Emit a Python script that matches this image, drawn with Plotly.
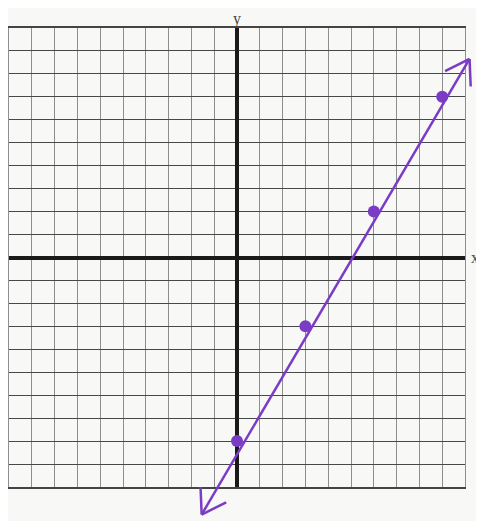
import math
import plotly.graph_objects as go

# plotted points (hand drawn on a -10..10 grid)
point_x = [0, 3, 6, 9]
point_y = [-8, -3, 2, 7]

# ends of the drawn line (arrow tips)
line_x = [-1.55, 10.2]
line_y = [-11.2, 8.65]

purple = "#7a3cc4"
paper = "#f8f8f6"

# figure size and where the grid box sits inside it (pixels)
W, H = 476, 513
gx0, gx1 = 1, 457
gy0, gy1 = 20, 479
ux = (gx1 - gx0) / 20
uy = (gy1 - gy0) / 20

fig = go.Figure()

# empty trace so the grid subplot is drawn
fig.add_trace(go.Scatter(x=[0], y=[0], mode="markers", marker=dict(opacity=0), hoverinfo="skip"))

# line, arrowheads and points go on a full-size overlay axis pair so the
# arrow tips can run past the edge of the grid
fig.add_trace(
    go.Scatter(
        x=line_x,
        y=line_y,
        mode="lines",
        line=dict(color=purple, width=2.5),
        hoverinfo="skip",
        xaxis="x2",
        yaxis="y2",
    )
)


# open "V" arrowheads at both ends, built from the line direction
def arrow_wings(tip_x, tip_y, from_x, from_y, length=1.2, spread=33):
    ang = math.atan2(from_y - tip_y, from_x - tip_x)
    xs, ys = [], []
    for s in (-spread, spread):
        a = ang + math.radians(s)
        xs += [tip_x + length * math.cos(a), tip_x, None]
        ys += [tip_y + length * math.sin(a), tip_y, None]
    return xs, ys


for i, j in ((0, 1), (1, 0)):
    wx, wy = arrow_wings(line_x[i], line_y[i], line_x[j], line_y[j])
    fig.add_trace(
        go.Scatter(
            x=wx,
            y=wy,
            mode="lines",
            line=dict(color=purple, width=2.5),
            hoverinfo="skip",
            xaxis="x2",
            yaxis="y2",
        )
    )

fig.add_trace(
    go.Scatter(
        x=point_x,
        y=point_y,
        mode="markers",
        marker=dict(color=purple, size=12),
        xaxis="x2",
        yaxis="y2",
    )
)

grid_common = dict(
    range=[-10, 10],
    dtick=1,
    showticklabels=False,
    ticks="",
    zeroline=True,
    zerolinecolor="#1a1a1a",
    zerolinewidth=3.5,
    showline=True,
    mirror=True,
    fixedrange=True,
)

fig.update_layout(
    width=W,
    height=H,
    margin=dict(l=0, r=0, t=0, b=0),
    paper_bgcolor=paper,
    plot_bgcolor="rgba(0,0,0,0)",
    showlegend=False,
    xaxis=dict(
        **grid_common,
        domain=[gx0 / W, gx1 / W],
        gridcolor="#8e8e8e",
        gridwidth=1,
        linecolor="#444444",
        linewidth=1.5,
    ),
    yaxis=dict(
        **grid_common,
        domain=[(H - gy1) / H, (H - gy0) / H],
        gridcolor="#484848",
        gridwidth=1.2,
        linecolor="#8e8e8e",
        linewidth=1,
    ),
    xaxis2=dict(
        domain=[0, 1],
        range=[-10 - gx0 / ux, 10 + (W - gx1) / ux],
        visible=False,
        fixedrange=True,
        anchor="y2",
    ),
    yaxis2=dict(
        domain=[0, 1],
        range=[-10 - (H - gy1) / uy, 10 + gy0 / uy],
        visible=False,
        fixedrange=True,
        anchor="x2",
    ),
    annotations=[
        dict(text="y", x=(gx0 + gx1) / 2 / W, y=1, xref="paper", yref="paper",
             xanchor="center", yanchor="top", yshift=0, showarrow=False,
             font=dict(family="Liberation Serif", size=16, color="#444")),
        dict(text="x", x=(gx1 + 4) / W, y=(H - (gy0 + gy1) / 2) / H, xref="paper", yref="paper",
             xanchor="left", yanchor="middle", showarrow=False,
             font=dict(family="Liberation Serif", size=16, color="#444")),
    ],
)

fig.write_html("out.html")
